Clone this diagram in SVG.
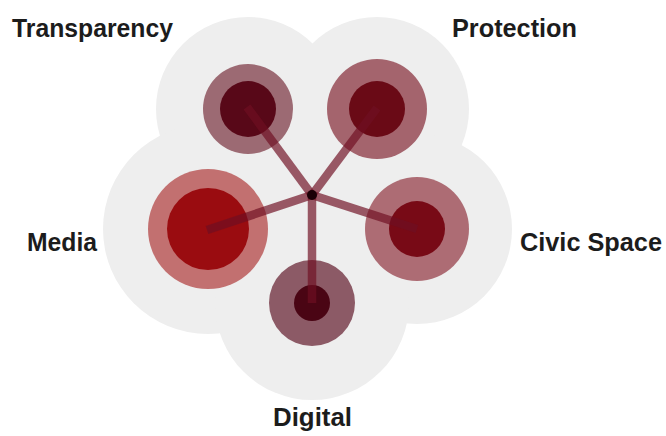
<svg xmlns="http://www.w3.org/2000/svg" width="666" height="436" viewBox="0 0 666 436">
<style>
.bg{fill:#eeeeee}
.lbl{font-family:"Liberation Sans",Arial,sans-serif;font-weight:bold;font-size:25px;fill:#1c1c1c}
.ln{stroke:#6e0f22;stroke-opacity:0.68;stroke-width:8.5;stroke-linecap:butt;fill:none}
</style>
<rect width="666" height="436" fill="#ffffff"/>
<g id="background">
<circle class="bg" cx="312" cy="205" r="120"/>
<circle class="bg" cx="248" cy="109" r="92"/>
<circle class="bg" cx="377" cy="109" r="92"/>
<circle class="bg" cx="208" cy="229" r="105"/>
<circle class="bg" cx="417" cy="229" r="95"/>
<circle class="bg" cx="312" cy="303" r="97"/>
</g>
<g id="node-transparency">
<circle cx="248" cy="109" r="45" fill="#9c6a73"/>
<circle cx="248" cy="109" r="28" fill="#580818"/>
<text class="lbl" x="12" y="37" textLength="161" lengthAdjust="spacingAndGlyphs">Transparency</text>
</g>
<g id="node-protection">
<circle cx="377" cy="109" r="50" fill="#a4646d"/>
<circle cx="377" cy="109" r="28" fill="#6a0a16"/>
<text class="lbl" x="452" y="37" textLength="125" lengthAdjust="spacingAndGlyphs">Protection</text>
</g>
<g id="node-media">
<circle cx="208" cy="229" r="60" fill="#c27070"/>
<circle cx="208" cy="229" r="41" fill="#9a0c10"/>
<text class="lbl" x="27" y="251" textLength="70" lengthAdjust="spacingAndGlyphs">Media</text>
</g>
<g id="node-civic">
<circle cx="417" cy="229" r="52" fill="#ad6c74"/>
<circle cx="417" cy="229" r="28" fill="#780a16"/>
<text class="lbl" x="520" y="251" textLength="142" lengthAdjust="spacingAndGlyphs">Civic Space</text>
</g>
<g id="node-digital">
<circle cx="312" cy="303" r="43" fill="#8c5a66"/>
<circle cx="312" cy="303" r="18" fill="#4a0514"/>
<text class="lbl" x="273" y="426" textLength="79" lengthAdjust="spacingAndGlyphs">Digital</text>
</g>
<g id="connectors">
<line class="ln" x1="312" y1="195" x2="247" y2="107"/>
<line class="ln" x1="312" y1="195" x2="377" y2="108"/>
<line class="ln" x1="312" y1="195" x2="207" y2="230"/>
<line class="ln" x1="312" y1="195" x2="417" y2="229"/>
<line class="ln" x1="312" y1="195" x2="312" y2="303"/>
<circle cx="312" cy="195" r="5" fill="#1a0006"/>
</g>
</svg>
